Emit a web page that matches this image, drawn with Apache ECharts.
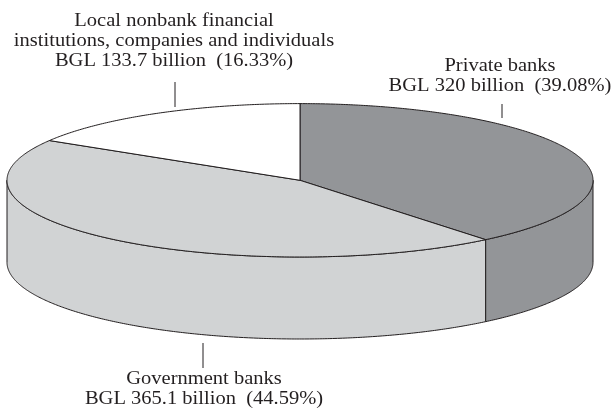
<!DOCTYPE html>
<html>
<head>
<meta charset="utf-8">
<script src="https://cdn.jsdelivr.net/npm/echarts@6/dist/echarts.min.js"></script>
<style>
  html, body { margin: 0; padding: 0; background: #ffffff; }
  #chart { width: 615px; height: 411px; }
</style>
</head>
<body>
<div id="chart"></div>
<script>
// Holders of bank credit, BGL billion
const sectors = [
  'Private banks',
  'Government banks',
  'Local nonbank financial\ninstitutions, companies and individuals'
];
const amounts = [320, 365.1, 133.7];
const sliceColors = ['#939598', '#d1d3d4', '#ffffff'];

const total = amounts.reduce((a, b) => a + b, 0);
const shares = amounts.map(v => v / total * 100);
const offsets = amounts.map((v, i) => amounts.slice(0, i).reduce((a, b) => a + b, 0));

// Tilted disc: ellipse of the top face plus wall depth
const disc = { cx: 300, cy: 180.3, rx: 293, ry: 76.7, depth: 82, startAngle: 90 };
const ink = '#231f20';

function pt(deg, dy) {
  const r = deg * Math.PI / 180;
  return [disc.cx + disc.rx * Math.cos(r), disc.cy - disc.ry * Math.sin(r) + (dy || 0)];
}
function arc(from, to, dy) {
  const pts = [];
  const n = Math.max(2, Math.ceil(Math.abs(from - to) / 0.5));
  for (let i = 0; i <= n; i++) pts.push(pt(from + (to - from) * i / n, dy));
  return pts;
}

function renderSlice(params, api) {
  const value = api.value(0);
  const before = api.value(1);
  const start = disc.startAngle - 360 * before / total;
  const end = start - 360 * value / total;
  const fill = sliceColors[params.dataIndex];
  const children = [];

  // outer wall: only the part of the rim facing the viewer (lower half)
  for (let k = -2; k <= 1; k++) {
    const lo = Math.max(end, -180 + 360 * k);
    const hi = Math.min(start, 360 * k);
    if (hi > lo) {
      const top = arc(hi, lo, 0);
      const bottom = arc(lo, hi, disc.depth);
      children.push({
        type: 'polygon',
        shape: { points: top.concat(bottom) },
        style: { fill: fill, stroke: ink, lineWidth: 1, lineJoin: 'round' }
      });
    }
  }

  // top face wedge
  const face = [[disc.cx, disc.cy]].concat(arc(start, end, 0));
  children.push({
    type: 'polygon',
    shape: { points: face },
    style: { fill: fill, stroke: ink, lineWidth: 1, lineJoin: 'round' }
  });

  return { type: 'group', children: children };
}

// label placement: centre x, first baseline, leader line
const labelSpots = [
  { x: 500, y: 72, lineX: 502, line: [104, 118] },
  { x: 204, y: 385, lineX: 203, line: [343, 368] },
  { x: 174, y: 27, lineX: 175, line: [82, 107] }
];

const labelFont = { family: 'Liberation Serif', size: 18, stretch: 1.14, step: 20 };

const graphics = [];
sectors.forEach((name, i) => {
  const spot = labelSpots[i];
  const lines = name.split('\n').concat(
    'BGL ' + amounts[i] + ' billion  (' + shares[i].toFixed(2) + '%)'
  );
  lines.forEach((txt, j) => {
    graphics.push({
      type: 'text',
      x: spot.x,
      y: spot.y + j * labelFont.step - 6,
      scaleX: labelFont.stretch,
      silent: true,
      style: {
        text: txt,
        fill: ink,
        fontFamily: labelFont.family,
        fontSize: labelFont.size,
        align: 'center',
        verticalAlign: 'middle'
      }
    });
  });
  graphics.push({
    type: 'line',
    silent: true,
    shape: { x1: spot.lineX, y1: spot.line[0], x2: spot.lineX, y2: spot.line[1] },
    style: { stroke: ink, lineWidth: 1 }
  });
});

const chart = echarts.init(document.getElementById('chart'), null, { renderer: 'canvas' });
chart.setOption({
  backgroundColor: '#ffffff',
  animation: false,
  series: [{
    type: 'custom',
    coordinateSystem: 'none',
    renderItem: renderSlice,
    data: amounts.map((v, i) => [v, offsets[i]]),
    silent: true
  }],
  graphic: graphics
});
</script>
</body>
</html>
